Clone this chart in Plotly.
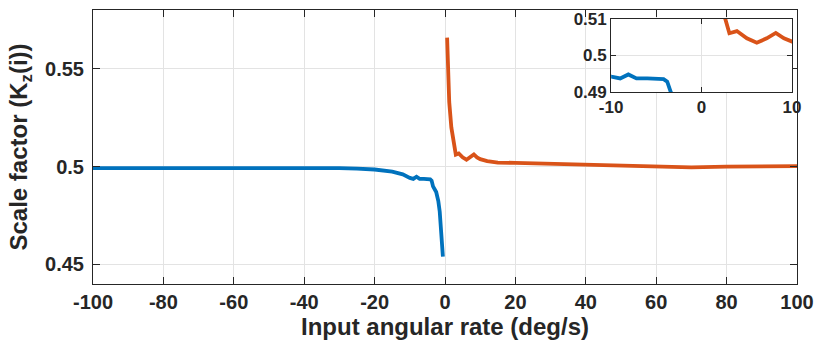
import plotly.graph_objects as go

# ---- data ----
neg_rate = [-100, -90, -80, -70, -60, -50, -40, -30, -25, -20, -15, -12, -10, -9, -8.1,
            -7.2, -6, -5, -4.2, -3.8, -3.4, -2.5, -1.9, -1.5, -1.2, -0.9, -0.6]
neg_scale = [0.4992, 0.4992, 0.4992, 0.4992, 0.4993, 0.4994, 0.4993, 0.4992, 0.4989,
             0.4985, 0.4974, 0.4960, 0.4942, 0.4937, 0.4948, 0.4937, 0.4937, 0.4936,
             0.4935, 0.4928, 0.4899, 0.4870, 0.4824, 0.4770, 0.4704, 0.4630, 0.4540]

pos_rate = [0.6, 0.8, 1.2, 1.8, 2.4, 2.62, 3.07, 3.9, 5.0, 6.1, 7.2, 8.2, 9.1, 10,
            12, 15, 20, 30, 40, 50, 60, 70, 80, 90, 100]
pos_scale = [0.5659, 0.5500, 0.5330, 0.5200, 0.5127, 0.5100, 0.5061, 0.5067, 0.5047,
             0.5035, 0.5047, 0.5062, 0.5047, 0.5038, 0.5028, 0.5020, 0.5019, 0.5015,
             0.5010, 0.5006, 0.5002, 0.4996, 0.5000, 0.5001, 0.5002]

x_ticks = [-100, -80, -60, -40, -20, 0, 20, 40, 60, 80, 100]
x_tick_text = ["-100", "-80", "-60", "-40", "-20", "0", "20", "40", "60", "80", "100"]
y_ticks = [0.45, 0.5, 0.55]
y_tick_text = ["0.45", "0.5", "0.55"]

inset_x_ticks = [-10, 0, 10]
inset_x_text = ["-10", "0", "10"]
inset_y_ticks = [0.49, 0.5, 0.51]
inset_y_text = ["0.49", "0.5", "0.51"]

BLUE = "#0072BD"
ORANGE = "#D95319"
AX = "#262626"
GRID = "#e3e3e3"
FONT = "Liberation Sans"

fig = go.Figure()
for xa, ya in (("x", "y"), ("x2", "y2")):
    fig.add_trace(go.Scatter(x=neg_rate, y=neg_scale, mode="lines", xaxis=xa, yaxis=ya,
                             line=dict(color=BLUE, width=3.8), showlegend=False))
    fig.add_trace(go.Scatter(x=pos_rate, y=pos_scale, mode="lines", xaxis=xa, yaxis=ya,
                             line=dict(color=ORANGE, width=3.8), showlegend=False))

axis_common = dict(showline=True, linecolor=AX, linewidth=1, mirror="allticks",
                   ticks="inside", tickcolor=AX, showgrid=True, automargin=False,
                   gridcolor=GRID, gridwidth=1, zeroline=False)

fig.update_layout(
    width=816, height=354,
    margin=dict(l=93, r=19, t=10, b=70),
    paper_bgcolor="white", plot_bgcolor="white",
    font=dict(family=FONT, color=AX),
    xaxis=dict(domain=[0, 1], range=[-100, 100], tickvals=x_ticks, ticktext=x_tick_text,
               tickfont=dict(size=20, weight="bold", color=AX), ticklen=7,
               title=dict(text="Input angular rate (deg/s)",
                          font=dict(size=24, weight="bold", color=AX), standoff=6),
               **axis_common),
    yaxis=dict(domain=[0, 1], range=[0.44, 0.58], tickvals=y_ticks, ticktext=y_tick_text,
               tickfont=dict(size=20, weight="bold", color=AX), ticklen=7,
               ticklabelstandoff=4,
               title=dict(text="Scale factor (K<sub>z</sub>(i))",
                          font=dict(size=24, weight="bold", color=AX), standoff=10),
               **axis_common),
    xaxis2=dict(domain=[0.736, 0.993], anchor="y2", range=[-10, 10],
                tickvals=inset_x_ticks, ticktext=inset_x_text,
                tickfont=dict(size=17, weight="bold", color=AX), ticklen=5,
                **axis_common),
    yaxis2=dict(domain=[0.701, 0.967], anchor="x2", range=[0.49, 0.51],
                tickvals=inset_y_ticks, ticktext=inset_y_text,
                tickfont=dict(size=17, weight="bold", color=AX), ticklen=5,
                **axis_common),
)

# white background for the inset, covering the main grid beneath it
fig.add_shape(type="rect", xref="x2 domain", yref="y2 domain", x0=0, x1=1, y0=0, y1=1,
              fillcolor="white", line=dict(width=0), layer="below")

fig.write_html("out.html")
